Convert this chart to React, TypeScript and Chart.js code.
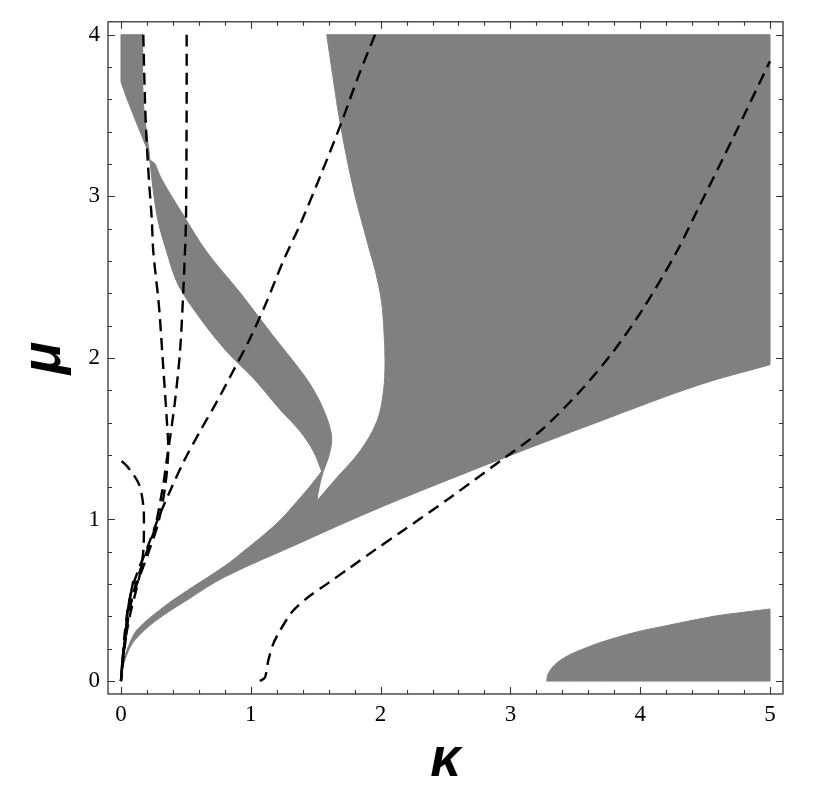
import React, { useEffect, useRef } from "react";
import { Chart, registerables } from "chart.js";

Chart.register(...registerables);

// Axis ticks
const xTicks = [0, 1, 2, 3, 4, 5];
const yTicks = [0, 1, 2, 3, 4];
const minorPerMajor = 5;

// Gray region: connected band from top-left, band from origin, and large region (κ, μ).
// Corner points are listed twice so the smoothed outline keeps sharp corners.
const regionMain: number[][] = [
  [0.0, 4.0], [0.0, 4.0], [0.167, 4.0], [0.167, 4.0], [0.172, 3.583], [0.21, 3.318], [0.21, 3.318],
  [0.223, 3.225], [0.223, 3.225], [0.262, 3.202], [0.262, 3.202],
  [0.316, 3.102], [0.48, 2.884], [0.66, 2.657], [0.917, 2.404], [1.164, 2.145], [1.379, 1.926],
  [1.482, 1.805], [1.559, 1.682], [1.61, 1.567], [1.623, 1.485], [1.597, 1.381], [1.559, 1.299],
  [1.529, 1.207], [1.508, 1.114], [1.508, 1.114],
  [1.662, 1.258], [1.841, 1.423], [1.972, 1.608], [2.022, 1.793], [2.034, 1.978], [2.026, 2.164],
  [2.007, 2.349], [1.961, 2.534], [1.918, 2.657], [1.79, 3.048], [1.687, 3.46], [1.633, 3.738],
  [1.585, 4.0], [1.585, 4.0],
  [5.0, 4.0], [5.0, 4.0], [5.0, 1.958], [5.0, 1.958], [4.461, 1.835], [3.69, 1.608], [2.92, 1.372],
  [2.149, 1.125], [1.739, 0.985], [1.379, 0.855], [0.801, 0.645], [0.516, 0.505], [0.262, 0.37],
  [0.108, 0.255], [0.054, 0.18], [0.012, 0.08], [0.0, 0.0], [0.0, 0.0],
  [0.015, 0.108], [0.069, 0.238], [0.131, 0.324], [0.339, 0.465], [0.516, 0.563], [0.801, 0.713],
  [0.94, 0.8], [1.1, 0.905], [1.225, 0.995], [1.341, 1.098], [1.456, 1.205], [1.546, 1.299], [1.546, 1.299],
  [1.482, 1.423], [1.379, 1.546], [1.225, 1.68], [1.019, 1.875], [0.814, 2.04], [0.609, 2.246],
  [0.441, 2.452], [0.352, 2.657], [0.287, 2.843], [0.254, 3.003], [0.223, 3.213], [0.223, 3.213],
  [0.198, 3.299], [0.198, 3.299], [0.056, 3.583], [0.0, 3.707], [0.0, 3.707], [0.0, 4.0],
];

// Gray region: bottom-right lobe
const regionLobe: number[][] = [
  [3.28, 0.0], [3.28, 0.0], [3.286, 0.034], [3.305, 0.065], [3.344, 0.102], [3.382, 0.127],
  [3.459, 0.164], [3.562, 0.199], [3.69, 0.238], [3.819, 0.27], [3.998, 0.309], [4.204, 0.343],
  [4.384, 0.373], [4.589, 0.404], [4.769, 0.423], [5.0, 0.446], [5.0, 0.446], [5.0, 0.0],
  [5.0, 0.0], [3.28, 0.0],
];

// Dashed curves (κ, μ)
const curveD1: number[][] = [
  [0.172, 4.0], [0.185, 3.583], [0.198, 3.336], [0.218, 3.069], [0.237, 2.863], [0.249, 2.657],
  [0.287, 2.369], [0.3, 2.246], [0.326, 1.937], [0.352, 1.628], [0.364, 1.423], [0.339, 1.196],
  [0.285, 0.972], [0.208, 0.787], [0.146, 0.651], [0.092, 0.528], [0.054, 0.404], [0.031, 0.25],
  [0.008, 0.096], [0.0, 0.0],
];
const curveD2: number[][] = [
  [0.506, 4.0], [0.506, 3.583], [0.501, 2.863], [0.493, 2.657], [0.48, 2.41], [0.455, 2.04],
  [0.416, 1.731], [0.378, 1.505], [0.351, 1.361], [0.326, 1.217], [0.262, 0.949], [0.21, 0.826],
  [0.146, 0.682], [0.1, 0.559], [0.062, 0.423], [0.035, 0.25], [0.012, 0.096], [0.0, 0.0],
];
const curveD3: number[][] = [
  [1.957, 4.0], [1.826, 3.738], [1.7, 3.46], [1.533, 3.12], [1.379, 2.824], [1.248, 2.596],
  [1.123, 2.349], [0.994, 2.12], [0.863, 1.917], [0.74, 1.731], [0.609, 1.546], [0.485, 1.361],
  [0.378, 1.176], [0.285, 1.003], [0.208, 0.836], [0.146, 0.713], [0.092, 0.59], [0.054, 0.454],
  [0.027, 0.281], [0.012, 0.127], [0.0, 0.0],
];
const curveD4: number[][] = [
  [0.005, 1.361], [0.046, 1.33], [0.095, 1.279], [0.135, 1.225], [0.159, 1.156], [0.173, 1.077],
  [0.177, 0.991], [0.172, 0.806], [0.146, 0.664], [0.116, 0.559], [0.077, 0.435], [0.046, 0.312],
  [0.023, 0.188], [0.008, 0.077], [0.0, 0.0],
];
const curveD5: number[][] = [
  [1.07, 0.0], [1.109, 0.022], [1.135, 0.127], [1.173, 0.23], [1.225, 0.312], [1.32, 0.43],
  [1.43, 0.512], [1.585, 0.6], [1.764, 0.702], [1.957, 0.812], [2.149, 0.918], [2.535, 1.135],
  [2.92, 1.361], [3.228, 1.546], [3.536, 1.793], [3.793, 2.04], [4.024, 2.307], [4.281, 2.657],
  [4.461, 2.948], [4.717, 3.364], [5.0, 3.836],
];
// Where the dashed curves bundle together near the origin (appears solid)
const curveBundle: number[][] = [
  [0.0, 0.0], [0.012, 0.127], [0.03, 0.26], [0.056, 0.456], [0.095, 0.62],
];

const GRAY = "#808080";

const toPts = (arr: number[][]) => arr.map(([x, y]) => ({ x, y }));

const frameTicks = {
  id: "frameTicks",
  afterDatasetsDraw(chart: any) {
    const { ctx, chartArea: a, scales } = chart;
    const xs = scales.x;
    const ys = scales.y;
    ctx.save();
    ctx.strokeStyle = "#333";
    ctx.lineWidth = 1.3;
    ctx.strokeRect(a.left, a.top, a.right - a.left, a.bottom - a.top);
    ctx.lineWidth = 1.1;
    ctx.beginPath();
    for (let i = 0; i < xTicks.length; i++) {
      const step = i < xTicks.length - 1 ? (xTicks[i + 1] - xTicks[i]) / minorPerMajor : 0;
      const nMinor = i < xTicks.length - 1 ? minorPerMajor : 1;
      for (let j = 0; j < nMinor; j++) {
        const v = xTicks[i] + j * step;
        const len = j === 0 ? 7 : 4;
        const px = Math.round(xs.getPixelForValue(v)) + 0.5;
        ctx.moveTo(px, a.bottom);
        ctx.lineTo(px, a.bottom - len);
        ctx.moveTo(px, a.top);
        ctx.lineTo(px, a.top + len);
      }
    }
    for (let i = 0; i < yTicks.length; i++) {
      const step = i < yTicks.length - 1 ? (yTicks[i + 1] - yTicks[i]) / minorPerMajor : 0;
      const nMinor = i < yTicks.length - 1 ? minorPerMajor : 1;
      for (let j = 0; j < nMinor; j++) {
        const v = yTicks[i] + j * step;
        const len = j === 0 ? 7 : 4;
        const py = Math.round(ys.getPixelForValue(v)) + 0.5;
        ctx.moveTo(a.left, py);
        ctx.lineTo(a.left + len, py);
        ctx.moveTo(a.right, py);
        ctx.lineTo(a.right - len, py);
      }
    }
    ctx.stroke();
    ctx.restore();
  },
};

export default function App() {
  const ref = useRef<HTMLCanvasElement | null>(null);

  useEffect(() => {
    if (!ref.current) return;
    const dashed = (data: number[][]) => ({
      data: toPts(data),
      borderColor: "#000",
      borderWidth: 2.4,
      borderDash: [12, 7],
      pointRadius: 0,
      fill: false,
      tension: 0.3,
      order: 1,
    });
    const region = (data: number[][]) => ({
      data: toPts(data),
      borderColor: GRAY,
      backgroundColor: GRAY,
      borderWidth: 1,
      pointRadius: 0,
      fill: "shape",
      tension: 0.35,
      order: 2,
    });
    const chart = new Chart(ref.current, {
      type: "line",
      data: {
        datasets: [
          region(regionMain) as any,
          region(regionLobe) as any,
          dashed(curveD1),
          dashed(curveD2),
          dashed(curveD3),
          dashed(curveD4),
          dashed(curveD5),
          {
            data: toPts(curveBundle),
            borderColor: "#000",
            borderWidth: 2.4,
            pointRadius: 0,
            fill: false,
            tension: 0.3,
            order: 0,
          },
        ],
      },
      options: {
        animation: false,
        responsive: false,
        devicePixelRatio: 1,
        layout: { padding: { top: 20, right: 47, bottom: 0, left: 0 } },
        plugins: {
          legend: { display: false },
          tooltip: { enabled: false },
        },
        events: [],
        scales: {
          x: {
            type: "linear",
            min: -0.1,
            max: 5.1,
            afterBuildTicks: (s: any) => {
              s.ticks = xTicks.map((v) => ({ value: v }));
            },
            afterFit: (s: any) => {
              s.height = 112;
            },
            grid: { display: false, drawTicks: false },
            border: { display: false },
            ticks: {
              color: "#000",
              padding: 7,
              maxRotation: 0,
              autoSkip: false,
              font: { family: '"Liberation Serif", "Times New Roman", serif', size: 23 },
            },
            title: {
              display: true,
              text: "κ",
              color: "#000",
              font: { family: '"Liberation Sans", Arial, sans-serif', size: 54, weight: "bold", style: "italic", lineHeight: 1.2 },
              padding: { top: 0, bottom: 12 },
            },
          },
          y: {
            type: "linear",
            min: -0.08,
            max: 4.08,
            afterBuildTicks: (s: any) => {
              s.ticks = yTicks.map((v) => ({ value: v }));
            },
            afterFit: (s: any) => {
              s.width = 108;
            },
            grid: { display: false, drawTicks: false },
            border: { display: false },
            ticks: {
              color: "#000",
              padding: 8,
              autoSkip: false,
              font: { family: '"Liberation Serif", "Times New Roman", serif', size: 23 },
            },
            title: {
              display: true,
              text: "μ",
              color: "#000",
              font: { family: '"Liberation Sans", Arial, sans-serif', size: 54, weight: "bold", style: "italic", lineHeight: 1.2 },
              padding: { top: 13, bottom: 0 },
            },
          },
        },
      } as any,
      plugins: [frameTicks],
    });
    return () => chart.destroy();
  }, []);

  return (
    <div style={{ position: "absolute", left: 0, top: 0, width: 830, height: 806, background: "#fff" }}>
      <canvas ref={ref} width={830} height={806} style={{ width: 830, height: 806, display: "block" }} />
    </div>
  );
}
